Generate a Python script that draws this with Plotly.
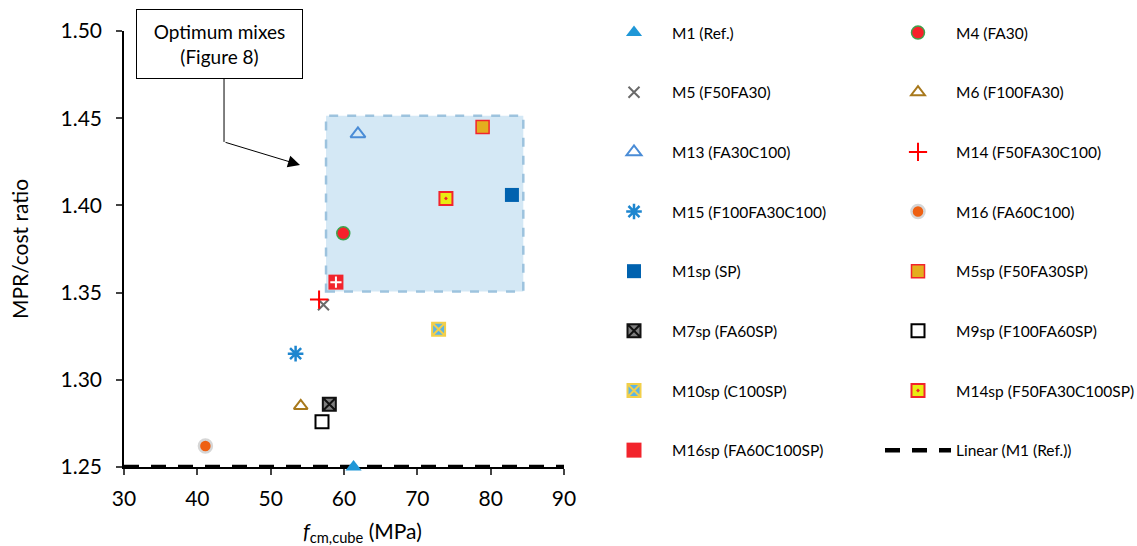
import plotly.graph_objects as go

# ---- data ----
names = ["M1 (Ref.)", "M5 (F50FA30)", "M13 (FA30C100)", "M15 (F100FA30C100)",
         "M1sp (SP)", "M7sp (FA60SP)", "M10sp (C100SP)", "M16sp (FA60C100SP)",
         "M4 (FA30)", "M6 (F100FA30)", "M14 (F50FA30C100)", "M16 (FA60C100)",
         "M5sp (F50FA30SP)", "M9sp (F100FA60SP)", "M14sp (F50FA30C100SP)"]
fcm = [61.3, 57.2, 61.9, 53.4,
       82.9, 58.0, 72.9, 58.9,
       59.9, 54.1, 56.6, 41.1,
       78.9, 57.0, 73.9]
mpr = [1.250, 1.343, 1.441, 1.315,
       1.406, 1.286, 1.329, 1.356,
       1.384, 1.285, 1.346, 1.262,
       1.445, 1.276, 1.404]
legend_col = ["legend"] * 8 + ["legend2"] * 7

# trendline "Linear (M1 (Ref.))"
lin_x = [30, 90]
lin_y = [1.25, 1.25]

x_ticks = [30, 40, 50, 60, 70, 80, 90]
y_ticks = [1.25, 1.30, 1.35, 1.40, 1.45, 1.50]

# ---- styles ----
styles = {
    "M1 (Ref.)": dict(symbol="triangle-up", color="#1F97D7", size=14, line=dict(width=0)),
    "M5 (F50FA30)": dict(symbol="x-thin-open", color="#6A6A6A", size=11, line=dict(width=2, color="#6A6A6A")),
    "M13 (FA30C100)": dict(symbol="triangle-up-open", color="#4A8CD6", size=13, line=dict(width=2, color="#4A8CD6")),
    "M15 (F100FA30C100)": dict(symbol="asterisk-open", color="#1E86CF", size=13, line=dict(width=2.5, color="#1E86CF")),
    "M1sp (SP)": dict(symbol="square", color="#0062AF", size=14, line=dict(width=0)),
    "M7sp (FA60SP)": dict(symbol="square-x", color="#7F7F7F", size=13, line=dict(width=2, color="#111111")),
    "M10sp (C100SP)": dict(symbol="square-x", color="#5CB4E4", size=13, line=dict(width=2, color="#F2CF4A")),
    "M16sp (FA60C100SP)": dict(symbol="square", color="#F2242C", size=15, line=dict(width=0)),
    "M4 (FA30)": dict(symbol="circle", color="#F8202A", size=13, line=dict(width=1.5, color="#3FA34D")),
    "M6 (F100FA30)": dict(symbol="triangle-up-open", color="#A8791C", size=12, line=dict(width=2, color="#A8791C")),
    "M14 (F50FA30C100)": dict(symbol="cross-thin-open", color="#FF0000", size=13, line=dict(width=2, color="#FF0000")),
    "M16 (FA60C100)": dict(symbol="circle", color="#EE6012", size=13, line=dict(width=2.5, color="#D6D6D6")),
    "M5sp (F50FA30SP)": dict(symbol="square", color="#E4AE1E", size=13, line=dict(width=1.5, color="#F2242C")),
    "M9sp (F100FA60SP)": dict(symbol="square-open", color="#000000", size=13, line=dict(width=2, color="#000000")),
    "M14sp (F50FA30C100SP)": dict(symbol="square-dot", color="#E9EC12", size=13, line=dict(width=2, color="#F2242C")),
}
# inner glyphs drawn over some squares (plot only)
overlays = {
    "M16sp (FA60C100SP)": dict(symbol="cross-thin-open", color="#FFFFFF", size=8, line=dict(width=2, color="#FFFFFF")),
}

FONT = "Lato"
fig = go.Figure()

fig.add_trace(go.Scatter(
    x=lin_x, y=lin_y, mode="lines", name="Linear (M1 (Ref.))", legend="legend2",
    legendgroup="lin", legendrank=999, cliponaxis=False,
    line=dict(color="#000000", width=4.5, dash="15px,12px"),
))

for i, (n, xv, yv, lg) in enumerate(zip(names, fcm, mpr, legend_col)):
    s = styles[n]
    fig.add_trace(go.Scatter(
        x=[xv], y=[yv], mode="markers", name=n, legend=lg,
        legendgroup=n, legendrank=100 + i, cliponaxis=False,
        marker=dict(symbol=s["symbol"], color=s["color"], size=s["size"], line=s["line"]),
    ))
    if n in overlays:
        o = overlays[n]
        fig.add_trace(go.Scatter(
            x=[xv], y=[yv], mode="markers", name=n, legend=lg, legendgroup=n,
            showlegend=False, hoverinfo="skip", cliponaxis=False,
            marker=dict(symbol=o["symbol"], color=o["color"], size=o["size"], line=o["line"]),
        ))

# optimum-mix region
fig.add_shape(type="rect", xref="x", yref="y", x0=57.55, x1=84.45, y0=1.3507, y1=1.4514,
              fillcolor="#D4E8F5", line=dict(color="#9DC3DE", width=2.5, dash="dash"), layer="below")

# callout box + connector
fig.add_annotation(xref="paper", yref="paper", x=0.217, y=0.970, text="Optimum mixes<br>(Figure 8)",
                   showarrow=False, font=dict(family=FONT, size=19, color="#000"),
                   bordercolor="#000", borderwidth=1, bgcolor="#FFFFFF", width=163, height=66,
                   xanchor="center", yanchor="middle")
fig.add_shape(type="line", xref="x", yref="y", x0=43.64, x1=43.64, y0=1.4725, y1=1.4364,
              line=dict(color="#000", width=1))
fig.add_annotation(xref="x", yref="y", axref="x", ayref="y", x=54.0, y=1.4232, ax=43.64, ay=1.4364,
                   text="", showarrow=True, arrowhead=2, arrowsize=2.4, arrowwidth=1, arrowcolor="#000")

# x-axis title as annotation (sits right of centre in the reference)
fig.add_annotation(xref="paper", yref="paper", x=0.543, y=-0.150, xanchor="center", yanchor="middle",
                   text="<i>f</i><sub>cm,cube</sub> (MPa)", showarrow=False,
                   font=dict(family=FONT, size=21, color="#000"))

leg_common = dict(xref="container", yref="container", xanchor="left", yanchor="top",
                  tracegroupgap=36.5, itemwidth=66, font=dict(family=FONT, size=15.5),
                  bgcolor="rgba(0,0,0,0)", maxheight=546)
fig.update_layout(
    width=1137, height=546,
    margin=dict(l=124, r=573, t=31, b=79, autoexpand=False),
    paper_bgcolor="#FFFFFF", plot_bgcolor="rgba(0,0,0,0)",
    font=dict(family=FONT, color="#000"),
    showlegend=True,
    legend=dict(x=596 / 1137, y=1 - 16 / 546, **leg_common),
    legend2=dict(x=880 / 1137, y=1 - 16 / 546, **leg_common),
)
fig.update_xaxes(range=[30, 90], tickvals=x_ticks, ticks="outside", ticklen=6, tickwidth=1.5,
                 showline=True, linecolor="#000", linewidth=1.5, showgrid=False, zeroline=False,
                 automargin=False, tickfont=dict(size=21), ticklabelstandoff=6, layer="below traces")
fig.update_yaxes(range=[1.25, 1.50], tickvals=y_ticks, tickformat=".2f", ticks="outside", ticklen=6,
                 tickwidth=1.5, showline=True, linecolor="#000", linewidth=1.5, showgrid=False,
                 zeroline=False, automargin=False, tickfont=dict(size=21), ticklabelstandoff=10,
                 layer="below traces",
                 title=dict(text="MPR/cost ratio", font=dict(size=21), standoff=26))

fig.write_html("out.html", config={"displayModeBar": False},
               post_script="document.body.style.margin='0px';")
